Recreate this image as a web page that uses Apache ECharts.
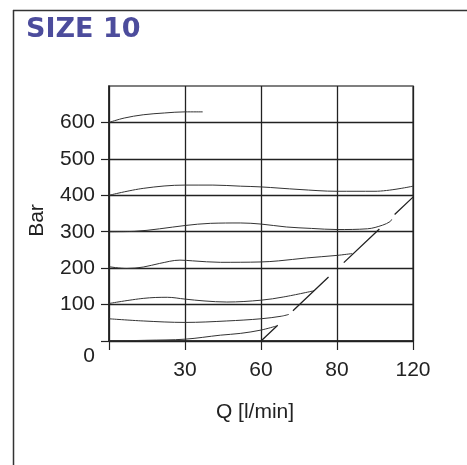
<!DOCTYPE html>
<html>
<head>
<meta charset="utf-8">
<script src="https://cdn.jsdelivr.net/npm/echarts@6/dist/echarts.min.js"></script>
<style>
html,body{margin:0;padding:0;background:#fff;}
#chart{width:467px;height:465px;}
</style>
</head>
<body>
<div id="chart"></div>
<script>
// tick labels (grid lines are evenly spaced, labels are not)
var xTickLabels = ['', '30', '60', '80', '120'];
var yTickLabels = ['0', '100', '200', '300', '400', '500', '600', ''];

// curves, [x on axis scale, bar]
var curve600 = [[0,600],[6,612],[13.5,621],[22,626],[30,629],[37,629]];
var curve400 = [[0,400],[13.5,419],[30,428],[41,428],[52,425],[60,423],[75,416],[90,411],[105,411],[120,425]];
var curve300 = [[0,300],[10,301],[20,308],[30,317],[40,323],[52,324],[60,321],[70,313],[80,309],[90,306],[102,308],[108,318],[111,328],[111.6,334]];
var curve200 = [[0,204],[7,199],[13.5,203],[20,213],[28,222],[33,220],[44,216],[60,217],[67,220],[78,228],[90,235],[96,240]];
var curve100 = [[0,103],[13.5,117],[23,120],[30,115],[37.5,110],[46.5,107],[60,112],[69,121],[81,138]];
var curve60  = [[0,61],[13.5,55],[30,51],[46.5,55],[60,61],[68,68],[71,73]];
var curve0   = [[0,0],[15,2],[30,5],[44,16],[52,21],[60,30],[66,41]];
var limitLine = [[60,0],[120,395]];

var chart = echarts.init(document.getElementById('chart'));

var labelFont = '"Liberation Sans", Arial, sans-serif';

function curve(data) {
    return {
        type: 'line',
        data: data,
        smooth: 0.35,
        symbol: 'none',
        lineStyle: {color: '#333', width: 1},
        silent: true
    };
}

option = {
    animation: false,
    title: {
        text: 'SIZE 10',
        left: 21,
        top: 11,
        textStyle: {
            fontFamily: '"DejaVu Sans", sans-serif',
            fontWeight: 'bold',
            fontSize: 27,
            color: '#4c4c9c'
        }
    },
    graphic: [
        {type: 'line', shape: {x1: 13, y1: 10.5, x2: 467, y2: 10.5}, style: {stroke: '#333', lineWidth: 1.5}},
        {type: 'line', shape: {x1: 13.5, y1: 10, x2: 13.5, y2: 465}, style: {stroke: '#333', lineWidth: 1.5}}
    ],
    grid: {
        left: 109,
        right: 54,
        top: 86,
        bottom: 124,
        show: true,
        borderColor: '#555',
        borderWidth: 1.5
    },
    xAxis: {
        type: 'value',
        min: 0,
        max: 120,
        interval: 30,
        name: 'Q [l/min]',
        nameLocation: 'middle',
        nameGap: 61,
        nameTextStyle: {fontFamily: labelFont, fontSize: 21, color: '#222', padding: [0, 12, 0, 0]},
        axisLine: {lineStyle: {color: '#222', width: 1.5}},
        axisTick: {show: true, length: 9, lineStyle: {color: '#222', width: 1.2}},
        axisLabel: {
            margin: 19,
            fontFamily: labelFont,
            fontSize: 21,
            color: '#222',
            formatter: function (v) { return xTickLabels[Math.round(v / 30)]; }
        },
        splitLine: {show: true, lineStyle: {color: '#222', width: 1.3}}
    },
    yAxis: {
        type: 'value',
        min: 0,
        max: 700,
        interval: 100,
        name: 'Bar',
        nameLocation: 'middle',
        nameGap: 61,
        nameTextStyle: {fontFamily: labelFont, fontSize: 21, color: '#222', padding: [0, 14, 0, 0]},
        axisLine: {show: true, lineStyle: {color: '#222', width: 1.5}},
        axisTick: {show: true, length: 8, customValues: [0, 100, 200, 300, 400, 500, 600], lineStyle: {color: '#222', width: 1.2}},
        axisLabel: {
            margin: 14,
            fontFamily: labelFont,
            fontSize: 21,
            color: '#222',
            formatter: function (v) {
                var s = yTickLabels[Math.round(v / 100)];
                return v === 0 ? '{z|' + s + '}' : s;
            },
            rich: {
                z: {fontFamily: labelFont, fontSize: 21, color: '#222', padding: [30, 0, 0, 0]}
            }
        },
        splitLine: {show: true, lineStyle: {color: '#222', width: 1.3}}
    },
    series: [
        curve(curve600),
        curve(curve400),
        curve(curve300),
        curve(curve200),
        curve(curve100),
        curve(curve60),
        curve(curve0),
        {
            type: 'line',
            data: limitLine,
            symbol: 'none',
            silent: true,
            lineStyle: {color: '#222', width: 1.3, type: [49, 21], dashOffset: 26}
        }
    ]
};

chart.setOption(option);
</script>
</body>
</html>
